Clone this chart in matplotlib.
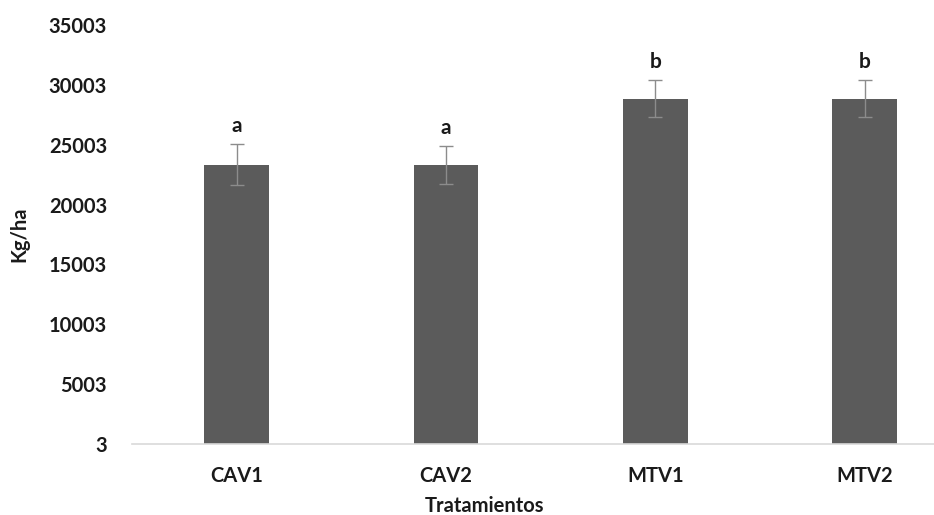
import numpy as np
import matplotlib.pyplot as plt

# datos
tratamientos = ['CAV1', 'CAV2', 'MTV1', 'MTV2']
rendimiento = [23330, 23330, 28845, 28845]
error = [1700, 1570, 1560, 1560]
letras = ['a', 'a', 'b', 'b']
yticks = [3, 5003, 10003, 15003, 20003, 25003, 30003, 35003]

plt.rcParams['font.family'] = ['Lato', 'DejaVu Sans']
plt.rcParams['font.weight'] = 'bold'

fig = plt.figure(figsize=(9.34, 5.15), dpi=100)
ax = fig.add_axes([132 / 934, 1 - 444 / 515, 1 - 132 / 934, 419 / 515])

x = np.arange(len(tratamientos))
ax.bar(x, rendimiento, width=0.31, color='#5b5b5b', zorder=2)
ax.errorbar(x, rendimiento, yerr=error, fmt='none', ecolor='#8c8c8c',
            elinewidth=1, capsize=5, capthick=1, zorder=3)

# letras de significancia
for xi, v, e, l in zip(x, rendimiento, error, letras):
    ax.annotate(l, (xi, v + e), xytext=(0, 6), textcoords='offset points',
                ha='center', va='bottom', fontsize=15, fontweight='bold',
                color='#1a1a1a')

ax.set_xlim(-0.5, -0.5 + (934 - 132) / 209.3)
ax.set_ylim(3, 35003)
ax.set_yticks(yticks)
ax.set_yticklabels([str(t) for t in yticks])
ax.set_xticks(x)
ax.set_xticklabels(tratamientos)

for s in ['top', 'right', 'left']:
    ax.spines[s].set_visible(False)
ax.spines['bottom'].set_color('#d9d9d9')
ax.spines['bottom'].set_linewidth(1.2)
ax.tick_params(axis='both', length=0, labelsize=14.5, colors='#1a1a1a')
ax.tick_params(axis='y', pad=18)
ax.tick_params(axis='x', pad=16)

ax.set_ylabel('Kg/ha', fontsize=14.5, fontweight='bold', color='#1a1a1a')
ax.yaxis.set_label_coords(-0.128, 0.5)
ax.set_xlabel('Tratamientos', fontsize=14.5, fontweight='bold', color='#1a1a1a')
ax.xaxis.set_label_coords(0.44, -0.124)

fig.savefig('out.png', dpi=100)
